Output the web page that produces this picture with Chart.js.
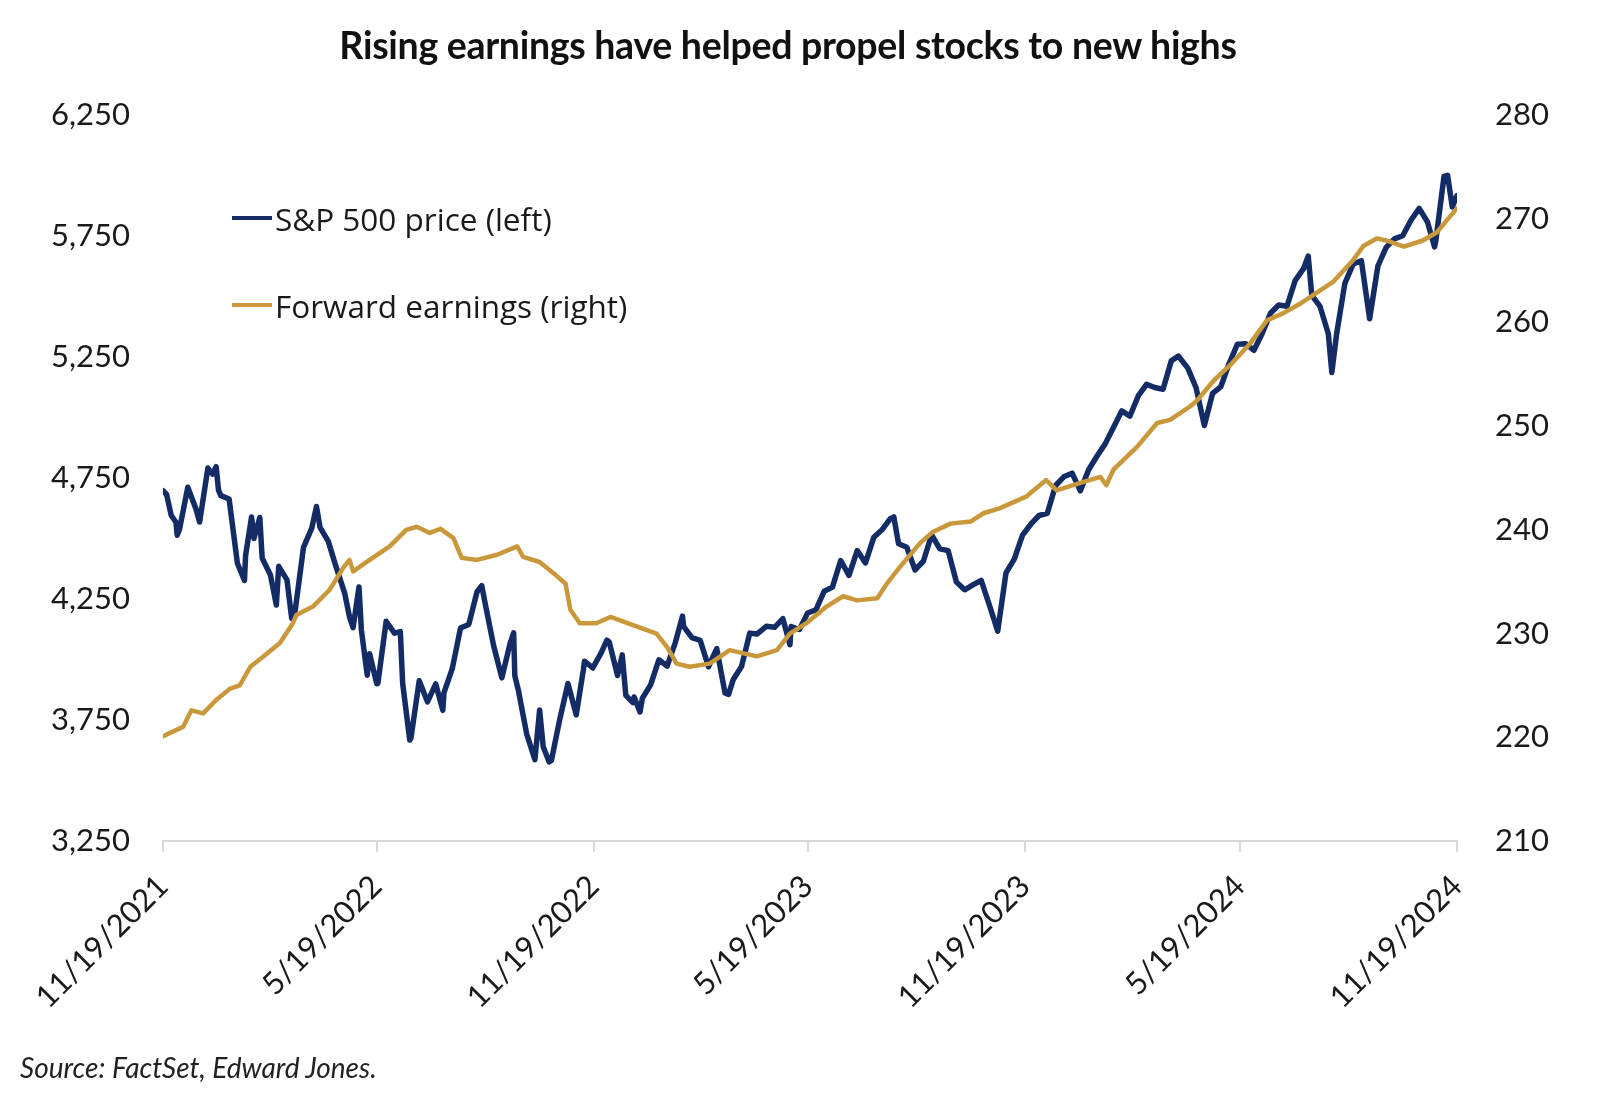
<!DOCTYPE html>
<html>
<head>
<meta charset="utf-8">
<script src="https://cdn.jsdelivr.net/npm/chart.js@4.4.1/dist/chart.umd.min.js"></script>
<style>
  html, body { margin: 0; padding: 0; background: #ffffff; }
  #wrap { position: relative; width: 1600px; height: 1101px; overflow: hidden; background: #fff; }
  #c { position: absolute; left: 0; top: 0; }
  .title { position: absolute; left: 0; width: 1576px; top: 22px; text-align: center;
    font-family: Lato, "Open Sans", sans-serif; font-weight: 700; font-size: 37.5px; color: #111; letter-spacing: -0.3px; }
  .leg { position: absolute; left: 232px; font-family: "Open Sans", sans-serif; font-size: 31.5px; color: #1a1a1a;
    display: flex; align-items: center; height: 40px; }
  .leg .sw { width: 40px; height: 4px; margin-right: 3px; }
  .source { position: absolute; left: 20px; top: 1050px; font-family: Lato, sans-serif; font-style: italic;
    font-size: 28px; color: #222; }
</style>
</head>
<body>
<div id="wrap">
  <canvas id="c" width="1600" height="1101"></canvas>
  <div class="title">Rising earnings have helped propel stocks to new highs</div>
  <div class="leg" style="top:198px;"><span class="sw" style="background:#142c66"></span>S&amp;P 500 price (left)</div>
  <div class="leg" style="top:285px;"><span class="sw" style="background:#c9983a"></span>Forward earnings (right)</div>
  <div class="source">Source: FactSet, Edward Jones.</div>
</div>
<script>
// ---- Data ----
const startDate = "2021-11-19";
const xTickDates = ["2021-11-19","2022-05-19","2022-11-19","2023-05-19","2023-11-19","2024-05-19","2024-11-19"];
const xTickLabels = ["11/19/2021","5/19/2022","11/19/2022","5/19/2023","11/19/2023","5/19/2024","11/19/2024"];
const leftTicks = [3250, 3750, 4250, 4750, 5250, 5750, 6250];
const rightTicks = [210, 220, 230, 240, 250, 260, 270, 280];

const spxDates = [
"2021-11-19","2021-11-22","2021-11-26","2021-11-30","2021-12-01","2021-12-03","2021-12-10","2021-12-17","2021-12-20","2021-12-27","2021-12-31",
"2022-01-03","2022-01-05","2022-01-07","2022-01-14","2022-01-21","2022-01-27","2022-01-28","2022-02-02","2022-02-04","2022-02-09","2022-02-11","2022-02-18","2022-02-23","2022-02-25",
"2022-03-04","2022-03-08","2022-03-11","2022-03-18","2022-03-25","2022-03-29","2022-04-01","2022-04-08","2022-04-14","2022-04-22","2022-04-26","2022-04-29",
"2022-05-04","2022-05-06","2022-05-11","2022-05-13","2022-05-19","2022-05-20","2022-05-27","2022-06-03","2022-06-08","2022-06-10","2022-06-16","2022-06-17","2022-06-24",
"2022-07-01","2022-07-08","2022-07-14","2022-07-15","2022-07-22","2022-07-29","2022-08-05","2022-08-12","2022-08-16","2022-08-19","2022-08-26",
"2022-09-02","2022-09-09","2022-09-12","2022-09-13","2022-09-16","2022-09-23","2022-09-30","2022-10-04","2022-10-07","2022-10-12","2022-10-14","2022-10-21","2022-10-28",
"2022-11-04","2022-11-10","2022-11-11","2022-11-18","2022-11-25","2022-11-30","2022-12-02","2022-12-09","2022-12-13","2022-12-16","2022-12-22","2022-12-23","2022-12-28","2022-12-30",
"2023-01-06","2023-01-13","2023-01-20","2023-01-27","2023-02-02","2023-02-03","2023-02-10","2023-02-17","2023-02-24","2023-03-03","2023-03-10","2023-03-13","2023-03-17","2023-03-24","2023-03-31",
"2023-04-06","2023-04-14","2023-04-21","2023-04-28","2023-05-04","2023-05-05","2023-05-12","2023-05-19","2023-05-26","2023-06-02","2023-06-09","2023-06-16","2023-06-23","2023-06-30",
"2023-07-07","2023-07-14","2023-07-21","2023-07-28","2023-07-31","2023-08-04","2023-08-11","2023-08-18","2023-08-25","2023-09-01","2023-09-08","2023-09-15","2023-09-22","2023-09-29",
"2023-10-06","2023-10-13","2023-10-20","2023-10-27","2023-11-03","2023-11-10","2023-11-17","2023-11-24","2023-12-01","2023-12-08","2023-12-15","2023-12-22","2023-12-29",
"2024-01-05","2024-01-12","2024-01-19","2024-01-26","2024-02-02","2024-02-09","2024-02-16","2024-02-23","2024-03-01","2024-03-08","2024-03-15","2024-03-22","2024-03-28",
"2024-04-05","2024-04-12","2024-04-19","2024-04-26","2024-05-03","2024-05-10","2024-05-17","2024-05-24","2024-05-31","2024-06-07","2024-06-14","2024-06-21","2024-06-28",
"2024-07-05","2024-07-12","2024-07-16","2024-07-19","2024-07-26","2024-08-02","2024-08-05","2024-08-09","2024-08-16","2024-08-23","2024-08-30",
"2024-09-06","2024-09-13","2024-09-20","2024-09-27","2024-10-04","2024-10-11","2024-10-18","2024-10-25","2024-10-31","2024-11-01","2024-11-08","2024-11-11","2024-11-15","2024-11-19"
];
const spxValues = [
4698,4682,4595,4567,4513,4538,4712,4621,4568,4791,4766,
4797,4700,4677,4663,4398,4327,4432,4589,4500,4587,4419,4349,4225,4385,
4329,4170,4204,4463,4543,4632,4546,4488,4392,4272,4175,4132,
4300,4123,3935,4024,3900,3901,4158,4109,4115,3901,3667,3675,3912,
3825,3899,3790,3863,3962,4130,4145,4280,4305,4228,4058,
3924,4067,4110,3932,3873,3693,3586,3791,3640,3577,3583,3752,3901,
3771,3956,3993,3965,4026,4080,4072,3934,4019,3852,3822,3845,3783,3840,
3895,3999,3973,4071,4179,4136,4090,4079,3970,4045,3862,3856,3917,3971,4109,
4105,4137,4133,4169,4061,4136,4124,4192,4205,4282,4299,4409,4348,4450,
4399,4505,4536,4582,4589,4478,4464,4370,4406,4515,4457,4450,4320,4288,
4308,4327,4224,4117,4358,4415,4514,4559,4595,4604,4719,4755,4770,
4697,4784,4840,4891,4959,5027,5006,5089,5137,5124,5117,5234,5254,
5204,5123,4967,5100,5128,5223,5303,5305,5278,5347,5431,5465,5460,
5567,5615,5667,5505,5459,5346,5186,5344,5554,5634,5648,
5408,5626,5703,5738,5751,5815,5864,5808,5705,5729,5996,6001,5870,5917
];

const epsDates = [
"2021-11-19","2021-12-06","2021-12-13","2021-12-23","2022-01-03","2022-01-15","2022-01-23","2022-02-01","2022-02-12","2022-02-26",
"2022-03-09","2022-03-12","2022-03-26","2022-04-09","2022-04-21","2022-04-26","2022-04-29","2022-05-13","2022-05-30","2022-06-13",
"2022-06-22","2022-07-03","2022-07-12","2022-07-23","2022-07-30","2022-08-12","2022-08-29","2022-09-15","2022-09-20","2022-10-04",
"2022-10-16","2022-10-26","2022-10-30","2022-11-07","2022-11-21","2022-12-03","2022-12-25","2023-01-11","2023-01-20","2023-01-28",
"2023-02-08","2023-02-25","2023-03-14","2023-04-06","2023-04-23","2023-05-04","2023-05-18","2023-06-04","2023-06-18","2023-06-30",
"2023-07-17","2023-07-25","2023-08-05","2023-08-22","2023-09-02","2023-09-17","2023-10-04","2023-10-15","2023-10-29","2023-11-20",
"2023-12-07","2023-12-16","2024-01-07","2024-01-22","2024-01-27","2024-02-02","2024-02-22","2024-03-10","2024-03-21","2024-04-07",
"2024-04-13","2024-04-27","2024-05-11","2024-05-28","2024-06-11","2024-06-25","2024-07-09","2024-08-06","2024-08-23","2024-09-01",
"2024-09-12","2024-09-20","2024-10-05","2024-10-21","2024-11-02","2024-11-13","2024-11-19"
];
const epsValues = [
220.1,221.0,222.6,222.3,223.6,224.7,225.0,226.8,227.8,229.1,
231.0,231.8,232.6,234.2,236.4,237.1,236.0,237.1,238.4,240.0,
240.3,239.7,240.1,239.2,237.3,237.1,237.6,238.4,237.4,236.9,
235.8,234.8,232.3,231.0,231.0,231.6,230.7,230.0,228.7,227.1,
226.8,227.1,228.4,227.8,228.4,230.0,231.0,232.6,233.6,233.2,
233.4,234.8,236.4,238.7,239.8,240.6,240.8,241.6,242.1,243.2,
244.8,243.8,244.6,245.1,244.3,245.8,248.0,250.3,250.6,251.9,
252.5,254.4,255.9,258.0,260.2,260.9,261.8,263.9,266.0,267.4,
268.1,267.9,267.3,267.9,268.7,270.2,271.0
];

// ---- helpers ----
function dayIndex(s) {
  const p = s.split("-").map(Number);
  const q = startDate.split("-").map(Number);
  return Math.round((Date.UTC(p[0], p[1]-1, p[2]) - Date.UTC(q[0], q[1]-1, q[2])) / 86400000);
}
const xTickValues = xTickDates.map(dayIndex);
const spxPoints = spxDates.map((d, i) => ({ x: dayIndex(d), y: spxValues[i] }));
const epsPoints = epsDates.map((d, i) => ({ x: dayIndex(d), y: epsValues[i] }));

const tickFont = { family: "Lato, 'Open Sans', sans-serif", size: 31 };
const tickColor = "#1a1a1a";

new Chart(document.getElementById("c"), {
  type: "line",
  data: {
    datasets: [
      { label: "Forward earnings (right)", data: epsPoints, yAxisID: "yR", borderColor: "#c9983a",
        borderWidth: 4.5, pointRadius: 0, tension: 0, order: 0, borderJoinStyle: "round", borderCapStyle: "round" },
      { label: "S&P 500 price (left)", data: spxPoints, yAxisID: "yL", borderColor: "#142c66",
        borderWidth: 5.5, pointRadius: 0, tension: 0, order: 1, borderJoinStyle: "round", borderCapStyle: "round" }
    ]
  },
  options: {
    responsive: false,
    animation: false,
    devicePixelRatio: 1,
    layout: { padding: { top: 115, bottom: 0, left: 0, right: 0 } },
    plugins: { legend: { display: false }, tooltip: { enabled: false }, title: { display: false } },
    scales: {
      x: {
        type: "linear",
        min: xTickValues[0],
        max: xTickValues[xTickValues.length - 1],
        afterBuildTicks: (s) => { s.ticks = xTickValues.map(v => ({ value: v })); },
        afterFit: (s) => { s.height = 260; },
        ticks: {
          autoSkip: false, maxRotation: 45, minRotation: 45, padding: 16,
          font: tickFont, color: tickColor,
          callback: (v) => { const i = xTickValues.indexOf(v); return i >= 0 ? xTickLabels[i] : ""; }
        },
        grid: { display: true, drawOnChartArea: false, drawTicks: true, tickLength: 11, color: "#d9d9d9", lineWidth: 2 },
        border: { display: true, color: "#d9d9d9", width: 2 }
      },
      yL: {
        position: "left",
        min: leftTicks[0], max: leftTicks[leftTicks.length - 1],
        afterBuildTicks: (s) => { s.ticks = leftTicks.map(v => ({ value: v })); },
        afterFit: (s) => { s.width = 163; },
        ticks: { padding: 33, font: tickFont, color: tickColor,
          callback: (v) => v.toLocaleString("en-US") },
        grid: { display: false, drawTicks: false },
        border: { display: false }
      },
      yR: {
        position: "right",
        min: rightTicks[0], max: rightTicks[rightTicks.length - 1],
        afterBuildTicks: (s) => { s.ticks = rightTicks.map(v => ({ value: v })); },
        afterFit: (s) => { s.width = 143; },
        ticks: { padding: 38, font: tickFont, color: tickColor },
        grid: { display: false, drawTicks: false },
        border: { display: false }
      }
    }
  }
});
</script>
</body>
</html>
